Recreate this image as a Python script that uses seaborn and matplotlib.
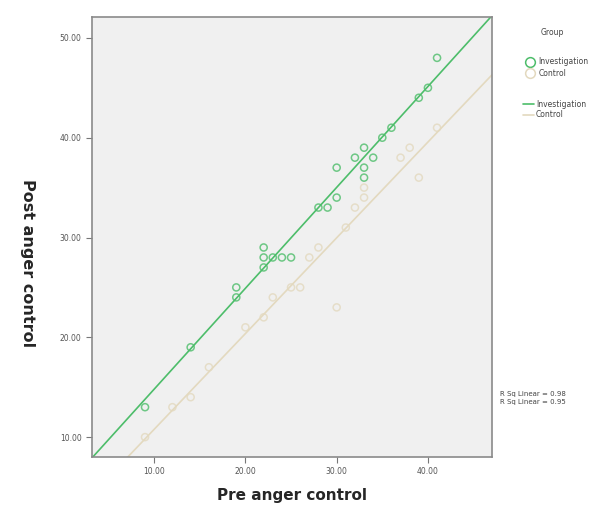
import matplotlib
matplotlib.use("Agg")
import matplotlib.pyplot as plt
from matplotlib.lines import Line2D
import seaborn as sns
import pandas as pd
import numpy as np

# Investigation group
inv_pre = [9, 14, 19, 19, 22, 22, 22, 23, 24, 25, 28, 29, 30, 30, 32, 33, 33, 33, 34, 35, 36, 39, 40, 41]
inv_post = [13, 19, 24, 25, 27, 28, 29, 28, 28, 28, 33, 33, 34, 37, 38, 36, 37, 39, 38, 40, 41, 44, 45, 48]

# Control group
ctl_pre = [9, 12, 14, 16, 20, 22, 23, 25, 26, 27, 28, 30, 31, 32, 33, 33, 37, 38, 39, 41]
ctl_post = [10, 13, 14, 17, 21, 22, 24, 25, 25, 28, 29, 23, 31, 33, 34, 35, 38, 39, 36, 41]

groups = ["Investigation", "Control"]
colors = {"Investigation": "#4dbd6a", "Control": "#e3d9bf"}

df = pd.concat([
    pd.DataFrame({"pre": inv_pre, "post": inv_post, "group": "Investigation"}),
    pd.DataFrame({"pre": ctl_pre, "post": ctl_post, "group": "Control"}),
])

sns.set_style("white")
plt.rcParams['font.family'] = ['DejaVu Sans']

fig = plt.figure(figsize=(6.14, 5.13), dpi=100)
ax = fig.add_axes([0.150, 0.109, 0.651, 0.858])
ax.set_facecolor("#f0f0f0")
ax.set_xlim(3.2, 47.0)
ax.set_ylim(8.0, 52.1)

r2 = {}
for g in groups:
    d = df[df.group == g]
    sns.regplot(data=d, x="pre", y="post", ax=ax, ci=None, truncate=False,
                color=colors[g],
                scatter_kws={"facecolors": "none", "edgecolors": colors[g], "s": 26, "linewidths": 1.1},
                line_kws={"linewidth": 1.2})
    r2[g] = np.corrcoef(d.pre, d.post)[0, 1] ** 2

ax.set_xlim(3.2, 47.0)
ax.set_ylim(8.0, 52.1)
ax.set_xticks([10, 20, 30, 40])
ax.set_yticks([10, 20, 30, 40, 50])
ax.xaxis.set_major_formatter(matplotlib.ticker.FormatStrFormatter("%.2f"))
ax.yaxis.set_major_formatter(matplotlib.ticker.FormatStrFormatter("%.2f"))
ax.tick_params(axis="both", direction="out", length=4, width=0.8, color="#777777",
               labelsize=5.5, labelcolor="#555555", bottom=True, left=True)
for s in ax.spines.values():
    s.set_color("#8a8a8a")
    s.set_linewidth(1.2)

ax.set_xlabel("Pre anger control", fontsize=11, fontweight="bold")
ax.xaxis.set_label_coords(0.5, -0.07)
ax.set_ylabel("Post anger control", fontsize=11.5, fontweight="bold", rotation=270)
ax.yaxis.set_label_coords(-0.18, 0.44)

# legend: title, marker block, line block
fig.text(0.900, 0.932, "Group", fontsize=5.5, color="#444444", ha="center")
mk = [Line2D([], [], marker="o", linestyle="none", markerfacecolor="none",
             markeredgecolor=colors[g], markersize=7, markeredgewidth=1.1) for g in groups]
ln = [Line2D([], [], color=colors[g], linewidth=1.2) for g in groups]
leg1 = fig.legend(mk, groups, loc="upper left", bbox_to_anchor=(0.857, 0.888),
                  frameon=False, fontsize=5.5, handlelength=1.0, handletextpad=0.6,
                  labelspacing=0.3, borderaxespad=0, borderpad=0)
leg2 = fig.legend(ln, groups, loc="upper left", bbox_to_anchor=(0.852, 0.806),
                  frameon=False, fontsize=5.5, handlelength=1.4, handletextpad=0.3,
                  labelspacing=0.25, borderaxespad=0, borderpad=0)
for leg in (leg1, leg2):
    for t in leg.get_texts():
        t.set_color("#444444")

fig.text(0.815, 0.229, "R Sq Linear = %.2f" % r2["Investigation"], fontsize=5, color="#444444")
fig.text(0.815, 0.213, "R Sq Linear = %.2f" % r2["Control"], fontsize=5, color="#444444")

fig.savefig("out.png", dpi=100, facecolor="white")
